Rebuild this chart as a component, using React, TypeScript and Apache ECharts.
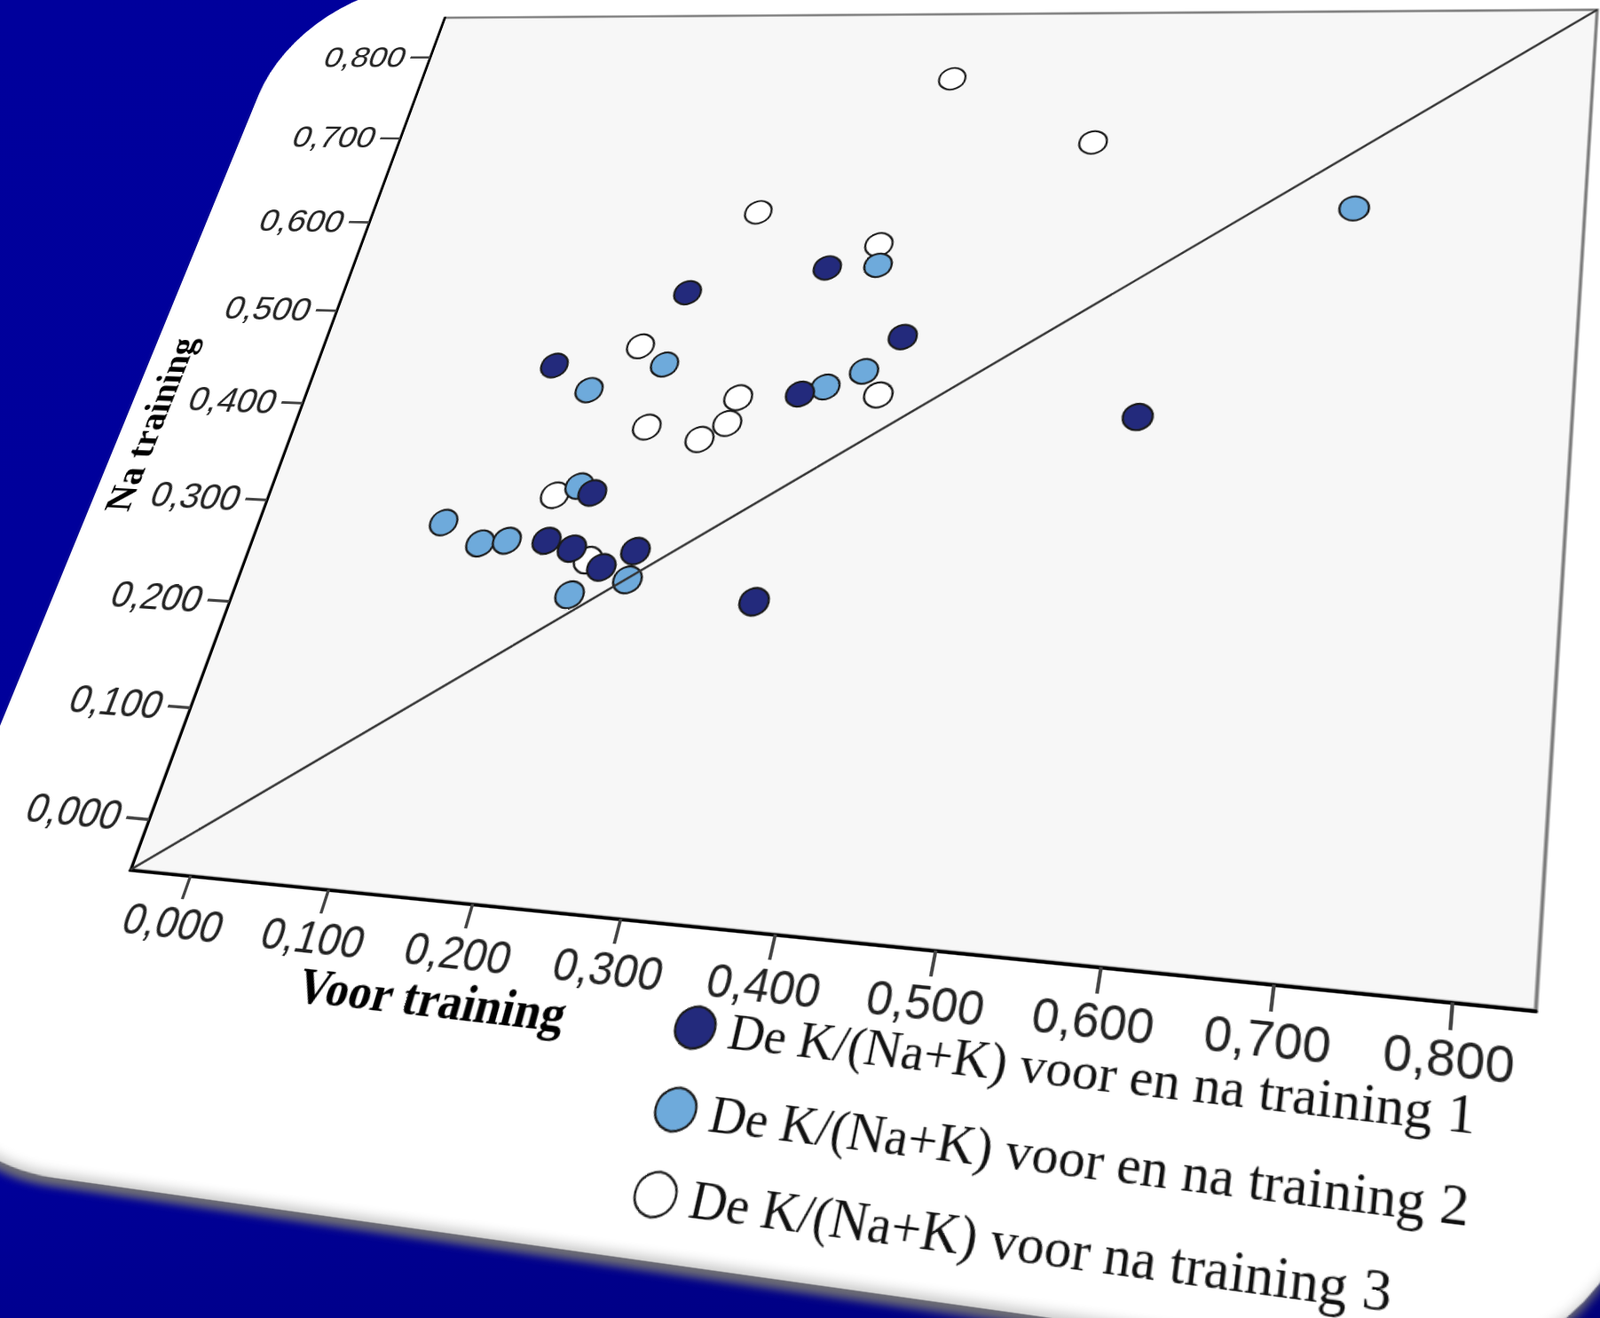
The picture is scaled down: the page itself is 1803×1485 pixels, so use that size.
import React, { useEffect, useRef } from "react";
import * as echarts from "echarts";

// ---------- data (Voor training, Na training) ----------
const seriesNames = [
  "De K/(Na+K) voor en na training 1",
  "De K/(Na+K) voor en na training 2",
  "De K/(Na+K) voor na training 3",
];

const training1: [number, number][] = [
  [0.228, 0.53], [0.328, 0.56], [0.395, 0.49], [0.143, 0.449],
  [0.331, 0.429], [0.568, 0.419], [0.2, 0.323], [0.177, 0.275],
  [0.197, 0.269], [0.222, 0.253], [0.243, 0.27], [0.335, 0.23],
];

const training2: [number, number][] = [
  [0.693, 0.633], [0.365, 0.564], [0.226, 0.454], [0.175, 0.425],
  [0.373, 0.454], [0.348, 0.437], [0.189, 0.329], [0.097, 0.287],
  [0.129, 0.269], [0.148, 0.273], [0.243, 0.243], [0.205, 0.226],
];

const training3: [number, number][] = [
  [0.388, 0.773], [0.503, 0.701], [0.265, 0.619], [0.362, 0.586],
  [0.204, 0.472], [0.287, 0.423], [0.387, 0.431], [0.284, 0.397],
  [0.226, 0.39], [0.267, 0.38], [0.173, 0.319], [0.211, 0.259],
];

const xMin = -0.044;
const xMax = 0.845;
const yMin = -0.044;
const yMax = 0.85;
const tickValues = [0, 0.1, 0.2, 0.3, 0.4, 0.5, 0.6, 0.7, 0.8];
// reference line drawn corner to corner of the plot
const referenceLine: [number, number][] = [
  [xMin, yMin],
  [xMax, yMax],
];

const xAxisTitle = "Voor training";
const yAxisTitle = "Na training";

// ---------- layout (flat card, then perspective-mapped) ----------
const CARD_W = 1530;
const CARD_H = 1322;
const G_LEFT = 195;
const G_TOP = 50;
const G_W = 1250;
const G_H = 1000;

// where the plot-area corners land on the page: BL, TL, TR, BR
const QUAD = [
  [147, 980],
  [501, 20],
  [1800, 11],
  [1731, 1139],
];

function homography(src: number[][], dst: number[][]) {
  const A: number[][] = [];
  const b: number[] = [];
  for (let i = 0; i < 4; i++) {
    const [x, y] = src[i];
    const [X, Y] = dst[i];
    A.push([x, y, 1, 0, 0, 0, -X * x, -X * y]);
    b.push(X);
    A.push([0, 0, 0, x, y, 1, -Y * x, -Y * y]);
    b.push(Y);
  }
  const n = 8;
  for (let c = 0; c < n; c++) {
    let p = c;
    for (let r = c + 1; r < n; r++) if (Math.abs(A[r][c]) > Math.abs(A[p][c])) p = r;
    [A[c], A[p]] = [A[p], A[c]];
    [b[c], b[p]] = [b[p], b[c]];
    for (let r = 0; r < n; r++) {
      if (r === c) continue;
      const f = A[r][c] / A[c][c];
      for (let k = c; k < n; k++) A[r][k] -= f * A[c][k];
      b[r] -= f * b[c];
    }
  }
  return b.map((v, i) => v / A[i][i]);
}

const fmt = (v: number) => v.toFixed(3).replace(".", ",");

export default function App() {
  const ref = useRef<HTMLDivElement>(null);

  useEffect(() => {
    if (!ref.current) return;
    const chart = echarts.init(ref.current, undefined, { renderer: "svg" });
    const serif = '"Liberation Serif", "DejaVu Serif", serif';
    const sans = '"Liberation Sans", Arial, sans-serif';
    const pointBorder = { borderColor: "#1a1a1a", borderWidth: 2.2, opacity: 1 };

    const option: any = {
      animation: false,
      backgroundColor: "transparent",
      grid: {
        left: G_LEFT,
        top: G_TOP,
        width: G_W,
        height: G_H,
        show: true,
        backgroundColor: "#f7f7f7",
        borderColor: "#7d7d7d",
        borderWidth: 3,
      },
      xAxis: {
        type: "value",
        min: xMin,
        max: xMax,
        splitLine: { show: false },
        axisLine: { show: true, onZero: false, lineStyle: { color: "#000", width: 3 } },
        axisTick: {
          show: true,
          length: 22,
          customValues: tickValues,
          lineStyle: { color: "#444", width: 3 },
        },
        axisLabel: {
          customValues: tickValues,
          formatter: fmt,
          fontFamily: sans,
          fontSize: 40,
          color: "#222",
          margin: 24,
        },
      },
      yAxis: {
        type: "value",
        min: yMin,
        max: yMax,
        splitLine: { show: false },
        axisLine: { show: true, onZero: false, lineStyle: { color: "#000", width: 3 } },
        axisTick: {
          show: true,
          length: 24,
          customValues: tickValues,
          lineStyle: { color: "#444", width: 3 },
        },
        axisLabel: {
          customValues: tickValues,
          formatter: fmt,
          fontFamily: sans,
          fontSize: 40,
          color: "#222",
          margin: 30,
        },
      },
      legend: {
        data: seriesNames,
        orient: "vertical",
        left: 750,
        top: 1106,
        height: 200,
        padding: 0,
        icon: "circle",
        itemWidth: 35,
        itemHeight: 35,
        itemGap: 10,
        textStyle: {
          fontFamily: serif,
          fontSize: 43,
          lineHeight: 30,
          color: "#111",
          padding: [0, 0, 28, 8],
        },
      },
      graphic: [
        {
          type: "text",
          x: G_LEFT - 163,
          y: 584,
          rotation: Math.PI / 2,
          style: {
            text: yAxisTitle,
            fontFamily: serif,
            fontWeight: "bold",
            fontSize: 42,
            fill: "#000",
            align: "center",
            verticalAlign: "middle",
          },
        },
        {
          type: "text",
          x: G_LEFT + 330,
          y: G_TOP + G_H + 86,
          style: {
            text: xAxisTitle,
            fontFamily: serif,
            fontWeight: "bold",
            fontSize: 44,
            fill: "#000",
            align: "center",
            verticalAlign: "middle",
          },
        },
      ],
      series: [
        {
          name: seriesNames[0],
          type: "scatter",
          z: 4,
          symbol: "circle",
          symbolSize: 28,
          itemStyle: { color: "#232a7c", ...pointBorder },
          data: training1,
        },
        {
          name: seriesNames[1],
          type: "scatter",
          z: 3,
          symbol: "circle",
          symbolSize: 28,
          itemStyle: { color: "#6eaadb", ...pointBorder },
          data: training2,
        },
        {
          name: seriesNames[2],
          type: "scatter",
          z: 2,
          symbol: "circle",
          symbolSize: 28,
          itemStyle: { color: "#ffffff", ...pointBorder },
          data: training3,
        },
        {
          name: "reference",
          type: "line",
          z: 6,
          silent: true,
          symbol: "none",
          lineStyle: { color: "#333", width: 2.5 },
          data: referenceLine,
        },
      ],
    };
    chart.setOption(option);
    return () => chart.dispose();
  }, []);

  const src = [
    [G_LEFT, G_TOP + G_H],
    [G_LEFT, G_TOP],
    [G_LEFT + G_W, G_TOP],
    [G_LEFT + G_W, G_TOP + G_H],
  ];
  const h = homography(src, QUAD);
  const transform = `matrix3d(${h[0]},${h[3]},0,${h[6]},${h[1]},${h[4]},0,${h[7]},0,0,1,0,${h[2]},${h[5]},0,1)`;

  return (
    <div
      style={{
        position: "fixed",
        left: 0,
        top: 0,
        width: 1803,
        height: 1485,
        overflow: "hidden",
        background: "linear-gradient(168deg, #00009c 0%, #00009a 70%, #00007a 100%)",
      }}
    >
      <div
        style={{
          position: "absolute",
          left: 0,
          top: 0,
          width: CARD_W,
          height: CARD_H,
          transformOrigin: "0 0",
          transform,
          background: "#ffffff",
          borderRadius: "160px 90px 170px 230px",
          boxShadow:
            "inset 0 -10px 10px -6px rgba(0,0,0,0.22), 0 10px 6px -3px rgba(115,115,115,0.95)",
        }}
      >
        <div ref={ref} style={{ width: CARD_W, height: CARD_H }} />
      </div>
    </div>
  );
}
